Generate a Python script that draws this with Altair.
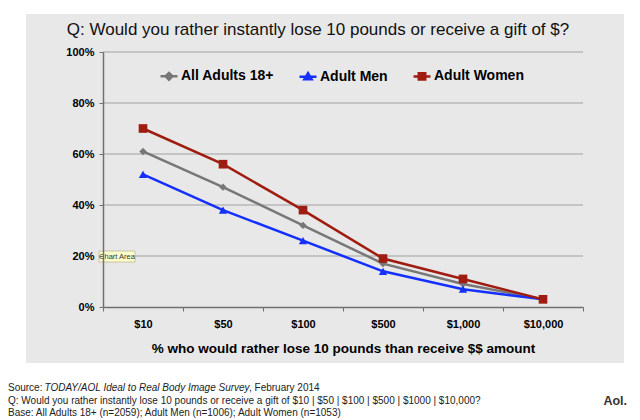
import altair as alt
import pandas as pd

series = ["All Adults 18+", "Adult Men", "Adult Women"]
amounts = ["$10", "$50", "$100", "$500", "$1,000", "$10,000"]
adults = [61, 47, 32, 17, 9, 3]
men = [52, 38, 26, 14, 7, 3]
women = [70, 56, 38, 19, 11, 3]
y_ticks = [0, 20, 40, 60, 80, 100]

colors = ["#777777", "#1430ff", "#a01c10"]
marker_shapes = ["diamond", "triangle-up", "square"]
marker_sizes = [55, 70, 75]
legend_paths = [
    "M-1,0H1M0,-0.4L0.4,0L0,0.4L-0.4,0ZM0,-0.15L0.15,0L0,0.15L-0.15,0Z",
    "M-1,0H1M0,-0.42L0.42,0.3L-0.42,0.3ZM0,-0.1L0.12,0.12L-0.12,0.12Z",
    "M-1,0H1M-0.38,-0.38H0.38V0.38H-0.38ZM-0.14,-0.14H0.14V0.14H-0.14Z",
]

title_text = "Q: Would you rather instantly lose 10 pounds or receive a gift of $?"
x_title = "% who would rather lose 10 pounds than receive $$ amount"
footer_1a = "Source: "
footer_1b = "TODAY/AOL Ideal to Real Body Image Survey"
footer_1c = ", February 2014"
footer_2 = "Q: Would you rather instantly lose 10 pounds or receive a gift of $10 | $50 | $100 | $500 | $1000 | $10,000?"
footer_3 = "Base: All Adults 18+ (n=2059); Adult Men (n=1006); Adult Women (n=1053)"

rows = []
for s, vals in zip(series, [adults, men, women]):
    for a, v in zip(amounts, vals):
        rows.append({"series": s, "amount": a, "value": v})
df = pd.DataFrame(rows)
grid_df = pd.DataFrame({"value": y_ticks})

FONT = "Liberation Sans"
W, H = 480, 255

x_enc = alt.X(
    "amount:N",
    sort=amounts,
    scale=alt.Scale(type="band", paddingInner=0, paddingOuter=0),
    axis=alt.Axis(
        title=x_title,
        labelAngle=0,
        tickBand="extent",
        tickSize=4,
        labelPadding=7,
        titlePadding=12,
        titleFontSize=13.5,
        titleFontWeight="bold",
        labelFontSize=11,
        labelFontWeight="bold",
        grid=False,
        zindex=1,
    ),
)
y_enc = alt.Y(
    "value:Q",
    scale=alt.Scale(domain=[0, 100], nice=False),
    axis=alt.Axis(
        values=y_ticks,
        labelExpr="datum.value + '%'",
        title=None,
        tickSize=4,
        labelPadding=5,
        labelFontSize=11,
        labelFontWeight="bold",
        grid=False,
        zindex=1,
    ),
)

one = alt.Data(values=[{}])

panel = alt.Chart(one).mark_rect(color="#e8e8e8").encode(
    x=alt.value(-77), x2=alt.value(521), y=alt.value(-38), y2=alt.value(311)
)

grid = alt.Chart(grid_df).transform_filter("datum.value > 0").mark_rule(
    color="#b9b9b9", strokeWidth=1.5
).encode(y=y_enc, x=alt.value(0), x2=alt.value(W))

color_scale = alt.Scale(domain=series, range=colors)

leg = dict(
    orient="none", legendX=56, legendY=14, direction="horizontal", title=None,
    symbolSize=289, symbolStrokeWidth=2.5, labelFont=FONT, labelFontSize=14,
    labelFontWeight="bold", labelColor="#000000", labelOffset=2, columnPadding=20,
    symbolOpacity=1,
)

lines = alt.Chart(df).mark_line(strokeWidth=2.5).encode(
    x=x_enc, y=y_enc,
    color=alt.Color("series:N", scale=color_scale, legend=alt.Legend(**leg)),
)

marker_layers = []
for s, c, shp, sz in zip(series, colors, marker_shapes, marker_sizes):
    marker_layers.append(
        alt.Chart(df).transform_filter(alt.datum.series == s)
        .mark_point(filled=True, opacity=1, shape=shp, size=sz, color=c)
        .encode(x=x_enc, y=y_enc)
    )

legend_layer = alt.Chart(df).transform_filter("false").mark_point(filled=False, strokeWidth=2.5, opacity=1).encode(
    x=x_enc, y=y_enc,
    color=alt.Color("series:N", scale=color_scale, legend=alt.Legend(**leg)),
    shape=alt.Shape("series:N", scale=alt.Scale(domain=series, range=legend_paths), legend=alt.Legend(**leg)),
)

title = alt.Chart(one).mark_text(font=FONT, fontSize=17, color="#111111", baseline="middle", align="center").encode(
    x=alt.value(215), y=alt.value(-22), text=alt.value(title_text)
)

fs = 10
fcol = "#222222"
f1a = alt.Chart(one).mark_text(font=FONT, fontSize=fs, color=fcol, align="left", baseline="middle").encode(
    x=alt.value(-95), y=alt.value(336), text=alt.value(footer_1a))
f1b = alt.Chart(one).mark_text(font=FONT, fontSize=fs, fontStyle="italic", color=fcol, align="left", baseline="middle").encode(
    x=alt.value(-58.5), y=alt.value(336), text=alt.value(footer_1b))
f1c = alt.Chart(one).mark_text(font=FONT, fontSize=fs, color=fcol, align="left", baseline="middle").encode(
    x=alt.value(146), y=alt.value(336), text=alt.value(footer_1c))
f2 = alt.Chart(one).mark_text(font=FONT, fontSize=fs, color=fcol, align="left", baseline="middle").encode(
    x=alt.value(-95), y=alt.value(349), text=alt.value(footer_2))
f3 = alt.Chart(one).mark_text(font=FONT, fontSize=fs, color=fcol, align="left", baseline="middle").encode(
    x=alt.value(-95), y=alt.value(361), text=alt.value(footer_3))
aol = alt.Chart(one).mark_text(font=FONT, fontSize=12.5, fontWeight="bold", color="#333333", align="right", baseline="middle").encode(
    x=alt.value(524), y=alt.value(349), text=alt.value("Aol."))

tip_box = alt.Chart(one).mark_rect(fill="#ffffcc", stroke="#b8b89a", strokeWidth=0.8).encode(
    x=alt.value(-4), x2=alt.value(32), y=alt.value(199), y2=alt.value(210))
tip_text = alt.Chart(one).mark_text(font=FONT, fontSize=7.5, color="#333333", align="center", baseline="middle").encode(
    x=alt.value(14), y=alt.value(204.5), text=alt.value("Chart Area"))

chart = alt.layer(
    panel, grid, lines, *marker_layers, legend_layer, title, f1a, f1b, f1c, f2, f3, aol, tip_box, tip_text
).properties(
    width=W, height=H,
    autosize=alt.AutoSizeParams(type="none"),
    padding={"left": 95, "top": 44, "right": 49, "bottom": 117},
    background="#ffffff",
).configure_view(stroke=None).configure_axis(
    domainColor="#707070", tickColor="#707070", domainWidth=1.5,
    labelFont=FONT, titleFont=FONT, labelColor="#000000", titleColor="#000000",
)

chart.save("out.html", embed_options={"renderer": "svg", "actions": False})
